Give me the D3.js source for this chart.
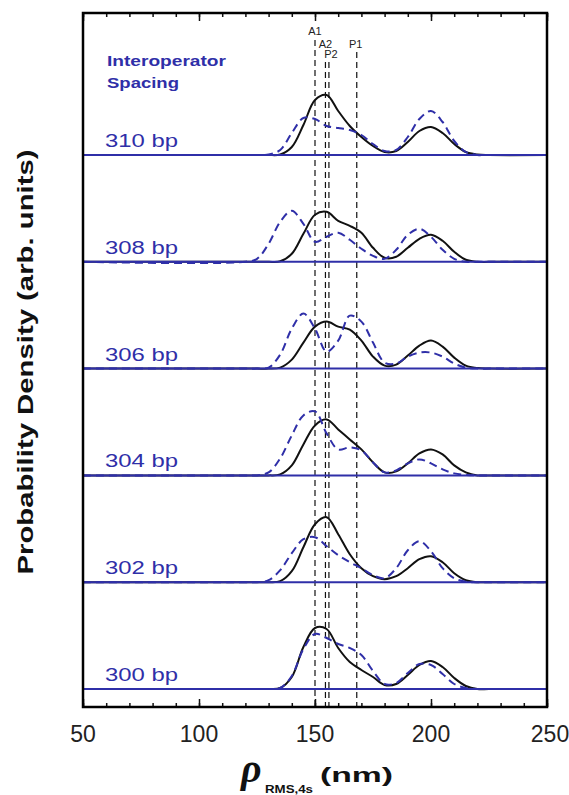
<!DOCTYPE html>
<html>
<head>
<meta charset="utf-8">
<script src="https://cdn.jsdelivr.net/npm/d3@7"></script>
<style>
  body { margin: 0; background: #fff; }
  text { font-family: "Liberation Sans", Arial, sans-serif; }
</style>
</head>
<body>
<div id="chart"></div>
<script>
// data (heights in arb. units)
var rho = [50, 120, 125, 130, 135, 140, 145, 150, 155, 160, 165, 170, 175, 180, 185, 190, 195, 200, 205, 210, 215, 220, 225, 250];

var spacings = ["310 bp", "308 bp", "306 bp", "304 bp", "302 bp", "300 bp"];

var black310 = [0, 0, 0, 0, 0.5, 8, 30, 55, 60, 44, 29, 18, 9, 3, 4, 13, 24, 28, 22, 11, 3, 0.5, 0, 0];
var blue310  = [0, 0, 0, 0.5, 5, 22, 37, 36, 29, 27, 25, 20, 11, 4, 5, 18, 36, 44, 33, 14, 3, 0, 0, 0];
var black308 = [0, 0, 0, 0, 0.5, 8, 28, 47, 50, 41, 36, 29, 14, 4, 5, 14, 23, 27, 21, 10, 2, 0, 0, 0];
var blue308  = [0, 0, 3, 18, 40, 51, 38, 20, 25, 29, 22, 13, 6, 3, 12, 27, 33, 25, 12, 3, 0, 0, 0, 0];
var black306 = [0, 0, 0, 0, 1, 9, 26, 42, 47, 42, 39, 28, 12, 3, 4, 13, 23, 28, 22, 11, 3, 0.5, 0, 0];
var blue306  = [0, 0, 0, 1, 14, 40, 55, 40, 17, 28, 53, 47, 26, 6, 5, 12, 16, 16, 12, 5, 1, 0, 0, 0];
var black304 = [0, 0, 0, 0, 1, 10, 31, 50, 56, 46, 36, 26, 13, 3, 4, 12, 22, 26, 21, 10, 3, 0, 0, 0];
var blue304  = [0, 0, 0, 3, 17, 40, 60, 64, 42, 26, 28, 25, 13, 3, 5, 12, 16, 12, 6, 2, 0.5, 0, 0, 0];
var black302 = [0, 0, 0, 0, 1, 11, 35, 58, 65, 48, 28, 14, 6, 3, 6, 14, 23, 26, 20, 9, 2, 0, 0, 0];
var blue302  = [0, 0, 0, 2, 12, 29, 43, 45, 36, 27, 20, 14, 7, 4, 14, 32, 41, 31, 14, 4, 0.5, 0, 0, 0];
var black300 = [0, 0, 0, 0, 1, 12, 42, 61, 60, 41, 27, 19, 12, 4, 5, 14, 24, 28, 22, 11, 3, 0, 0, 0];
var blue300  = [0, 0, 0, 0, 1, 13, 40, 55, 51, 45, 41, 34, 18, 5, 6, 16, 25, 24, 15, 5, 1, 0, 0, 0];

var blackSeries = [black310, black308, black306, black304, black302, black300];
var blueSeries  = [blue310, blue308, blue306, blue304, blue302, blue300];

// reference sites (nm)
var siteNames = ["A1", "A2", "P2", "P1"];
var sitePos   = [150, 154.5, 156, 168];

var xTicks = [50, 100, 150, 200, 250];

// layout
var width = 569, height = 795;
var margin = { top: 13, right: 22, bottom: 88, left: 83 };
var plotW = width - margin.left - margin.right,
    plotH = height - margin.top - margin.bottom;
var blue = "#2f2fa8";

var svg = d3.select("#chart")
    .append("svg")
    .attr("width", width)
    .attr("height", height);

var g = svg.append("g")
    .attr("transform", "translate(" + margin.left + "," + margin.top + ")");

var xScale = d3.scaleLinear().domain([50, 250]).range([0, plotW]);

// panel baselines
var panelScale = d3.scalePoint()
    .domain(spacings)
    .range([142, 676]);

// vertical dashed site lines
var siteTop = [27, 49, 49, 39];
g.selectAll(".site")
    .data(sitePos)
    .enter()
    .append("line")
    .attr("class", "site")
    .attr("x1", d => xScale(d))
    .attr("x2", d => xScale(d))
    .attr("y1", (d, i) => siteTop[i])
    .attr("y2", plotH)
    .attr("stroke", "#111")
    .attr("stroke-width", 1.2)
    .attr("stroke-dasharray", "6,4");

var siteLabelY = [22, 35, 45, 35];
var siteLabelDx = [0, 0, 2, -1];
g.selectAll(".sitelabel")
    .data(siteNames)
    .enter()
    .append("text")
    .attr("x", (d, i) => xScale(sitePos[i]) + siteLabelDx[i])
    .attr("y", (d, i) => siteLabelY[i])
    .attr("text-anchor", "middle")
    .style("font-size", "11px")
    .style("fill", "#222")
    .text(d => d);

// curves per panel
spacings.forEach(function (name, k) {
    var base = panelScale(name);
    var yScale = d3.scaleLinear().domain([0, 70]).range([base, base - 70]);

    var line = d3.line()
        .x((d, i) => xScale(rho[i]))
        .y(d => yScale(d))
        .curve(d3.curveCatmullRom.alpha(0.5));

    g.append("path")
        .datum(blackSeries[k])
        .attr("d", line)
        .attr("fill", "none")
        .attr("stroke", "#111")
        .attr("stroke-width", 2);

    g.append("path")
        .datum(blueSeries[k])
        .attr("d", line)
        .attr("fill", "none")
        .attr("stroke", blue)
        .attr("stroke-width", 2)
        .attr("stroke-dasharray", "8,5");

    // baseline
    g.append("line")
        .attr("x1", 0)
        .attr("x2", plotW)
        .attr("y1", yScale(0))
        .attr("y2", yScale(0))
        .attr("stroke", blue)
        .attr("stroke-width", 2);

    g.append("text")
        .attr("x", 22)
        .attr("y", base - 8)
        .attr("textLength", 73)
        .attr("lengthAdjust", "spacingAndGlyphs")
        .style("font-size", "18px")
        .style("fill", blue)
        .text(name);
});

// legend title
g.append("text")
    .attr("x", 24)
    .attr("y", 53)
    .attr("textLength", 119)
    .attr("lengthAdjust", "spacingAndGlyphs")
    .style("font-size", "15px")
    .style("font-weight", "bold")
    .style("fill", blue)
    .text("Interoperator");

g.append("text")
    .attr("x", 24)
    .attr("y", 75)
    .attr("textLength", 72)
    .attr("lengthAdjust", "spacingAndGlyphs")
    .style("font-size", "15px")
    .style("font-weight", "bold")
    .style("fill", blue)
    .text("Spacing");

// ticks top and bottom (inward)
var minorTicks = d3.range(50, 251, 10);
g.append("g")
    .attr("transform", "translate(0," + plotH + ")")
    .call(d3.axisBottom(xScale).tickValues(minorTicks).tickSize(-4).tickFormat(""))
    .call(a => a.select(".domain").remove());
g.append("g")
    .call(d3.axisTop(xScale).tickValues(minorTicks).tickSize(-4).tickFormat(""))
    .call(a => a.select(".domain").remove());
g.append("g")
    .attr("transform", "translate(0," + plotH + ")")
    .call(d3.axisBottom(xScale).tickValues(xTicks).tickSize(-8).tickFormat(""))
    .call(a => a.select(".domain").remove());
g.append("g")
    .call(d3.axisTop(xScale).tickValues(xTicks).tickSize(-8).tickFormat(""))
    .call(a => a.select(".domain").remove());
g.selectAll(".tick line").attr("stroke", "#111").attr("stroke-width", 1.5);

// tick labels
g.selectAll(".xlabel")
    .data(xTicks)
    .enter()
    .append("text")
    .attr("x", d => xScale(d) + (d === 250 ? 3 : 0))
    .attr("y", plotH + 35)
    .attr("text-anchor", "middle")
    .style("font-size", "23px")
    .style("fill", "#222")
    .text(d => d);

// frame
g.append("rect")
    .attr("width", plotW)
    .attr("height", plotH)
    .attr("fill", "none")
    .attr("stroke", "#000")
    .attr("stroke-width", 2.5);

// y axis title
svg.append("text")
    .attr("transform", "translate(33," + (margin.top + plotH / 2 + 2) + ") rotate(-90)")
    .attr("text-anchor", "middle")
    .attr("textLength", 425)
    .attr("lengthAdjust", "spacingAndGlyphs")
    .style("font-size", "22px")
    .style("font-weight", "bold")
    .style("fill", "#111")
    .text("Probability Density (arb. units)");

// x axis title
var xt = svg.append("text")
    .attr("y", 782)
    .style("font-weight", "bold")
    .style("fill", "#111");
xt.append("tspan")
    .attr("x", 241)
    .style("font-family", "'Liberation Serif', serif")
    .style("font-style", "italic")
    .style("font-size", "40px")
    .text("ρ");
xt.append("tspan")
    .attr("x", 265)
    .attr("dy", 11)
    .attr("textLength", 48)
    .attr("lengthAdjust", "spacingAndGlyphs")
    .style("font-size", "10px")
    .text("RMS,4s");
xt.append("tspan")
    .attr("x", 320)
    .attr("dy", -11)
    .attr("textLength", 73)
    .attr("lengthAdjust", "spacingAndGlyphs")
    .style("font-size", "21px")
    .text("(nm)");
</script>
</body>
</html>
